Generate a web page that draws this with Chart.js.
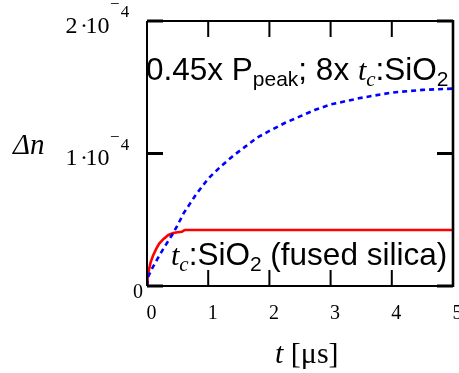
<!DOCTYPE html>
<html><head><meta charset="utf-8">
<script src="https://cdn.jsdelivr.net/npm/chart.js@4"></script>
<style>html,body{margin:0;padding:0;background:#fff}#wrap{width:459px;height:373px}</style>
</head><body><div id="wrap"><canvas id="c" width="459" height="373"></canvas></div>
<script>
// fused silica, t_c:SiO2 (red, solid)
const fusedTime = [0, 0.01, 0.03, 0.06, 0.1, 0.15, 0.2, 0.27, 0.35, 0.43, 0.5, 0.57, 0.62, 1, 2, 3, 4, 5];
const fusedDn   = [0, 0.06e-4, 0.12e-4, 0.18e-4, 0.23e-4, 0.28e-4, 0.32e-4, 0.355e-4, 0.385e-4, 0.40e-4, 0.405e-4, 0.41e-4, 0.423e-4, 0.423e-4, 0.423e-4, 0.423e-4, 0.423e-4, 0.423e-4];
// 0.45x P_peak; 8x t_c:SiO2 (blue, dashed)
const scaledTime = [0, 0.02, 0.08, 0.16, 0.24, 0.32, 0.43, 0.5, 0.6, 0.7, 0.8, 0.9, 1.0, 1.2, 1.4, 1.6, 1.8, 2.0, 2.25, 2.5, 2.75, 3.0, 3.5, 4.0, 4.5, 5.0];
const scaledDn   = [0, 0.07e-4, 0.13e-4, 0.196e-4, 0.26e-4, 0.32e-4, 0.40e-4, 0.46e-4, 0.55e-4, 0.62e-4, 0.69e-4, 0.75e-4, 0.81e-4, 0.9e-4, 0.98e-4, 1.05e-4, 1.12e-4, 1.17e-4, 1.23e-4, 1.28e-4, 1.33e-4, 1.37e-4, 1.42e-4, 1.46e-4, 1.48e-4, 1.49e-4];
const xTicks = [0, 1, 2, 3, 4, 5];
const xTickLabels = ['0', '1', '2', '3', '4', '5'];
const yTicks = [0, 1e-4, 2e-4];
const yTickMantissa = ['0', '1', '2'];
const yTickExponent = ['', '4', '4'];

const pts = (xs, ys) => xs.map((x, i) => ({x: x, y: ys[i]}));

const SANS = '"Liberation Sans", Arial, sans-serif';
const SERIF = '"Liberation Serif", "Times New Roman", serif';

function runs(ctx, x, y, parts) {
  for (const p of parts) {
    ctx.font = p.f;
    ctx.fillText(p.t, x, y + (p.dy || 0));
    x += ctx.measureText(p.t).width;
  }
}

const decor = {
  id: 'decor',
  afterDatasetsDraw(chart) {
    const ctx = chart.ctx, a = chart.chartArea, xs = chart.scales.x, ys = chart.scales.y;
    ctx.save();
    ctx.strokeStyle = '#000';
    ctx.fillStyle = '#000';
    ctx.lineWidth = 2;
    ctx.beginPath();
    ctx.moveTo(a.left, a.top); ctx.lineTo(a.right, a.top);
    ctx.moveTo(a.left, a.top); ctx.lineTo(a.left, a.bottom);
    ctx.moveTo(a.left, a.bottom); ctx.lineTo(a.right, a.bottom);
    ctx.stroke();
    ctx.lineWidth = 2.6;
    ctx.beginPath(); ctx.moveTo(a.right, a.top - 1); ctx.lineTo(a.right, a.bottom + 1); ctx.stroke();
    ctx.lineWidth = 2;
    const L = 16;
    ctx.beginPath();
    xTicks.forEach(v => {
      const px = xs.getPixelForValue(v);
      ctx.moveTo(px, a.bottom); ctx.lineTo(px, a.bottom - L);
      ctx.moveTo(px, a.top); ctx.lineTo(px, a.top + L);
    });
    ctx.stroke();
    ctx.lineWidth = 3;
    ctx.beginPath();
    yTicks.forEach(v => {
      const py = ys.getPixelForValue(v);
      ctx.moveTo(a.left, py); ctx.lineTo(a.left + L, py);
      ctx.moveTo(a.right - L, py); ctx.lineTo(a.right, py);
    });
    ctx.stroke();

    // x tick labels
    ctx.font = '20px ' + SERIF;
    ctx.textAlign = 'center';
    ctx.textBaseline = 'alphabetic';
    xTicks.forEach((v, i) => {
      ctx.fillText(xTickLabels[i], xs.getPixelForValue(v) + 4.5, a.bottom + 33);
    });
    // y tick labels
    yTicks.forEach((v, i) => {
      const py = ys.getPixelForValue(v);
      if (!yTickExponent[i]) {
        ctx.textAlign = 'right';
        ctx.font = '20px ' + SERIF;
        ctx.fillText(yTickMantissa[i], a.left - 4, py + 12);
        return;
      }
      ctx.textAlign = 'left';
      ctx.font = '24px ' + SERIF;
      ctx.fillText(yTickMantissa[i], 65.5, py + 11.5);
      ctx.fillText('10', 85.6, py + 11.5);
      ctx.textAlign = 'center';
      ctx.fillText('\u00B7', 84, py + 11.5);
      ctx.textAlign = 'left';
      ctx.font = '17px ' + SERIF;
      ctx.fillText('\u2212', 110, py - 12);
      ctx.fillText(yTickExponent[i], 120.8, py - 4);
    });

    // axis titles
    ctx.textAlign = 'left';
    runs(ctx, 275, 363, [
      {t: 't', f: 'italic 30px ' + SERIF},
      {t: ' [\u03BCs]', f: '30px ' + SERIF}
    ]);
    runs(ctx, 13, 154, [
      {t: '\u0394n', f: 'italic 29px ' + SERIF}
    ]);

    // annotations
    runs(ctx, 146, 80, [
      {t: '0.45x P', f: '31.5px ' + SANS},
      {t: 'peak', f: '21px ' + SANS, dy: 6},
      {t: '; 8x ', f: '31.5px ' + SANS},
      {t: 't', f: 'italic 30px ' + SERIF},
      {t: 'c', f: 'italic 21px ' + SERIF, dy: 6},
      {t: ':SiO', f: '31.5px ' + SANS},
      {t: '2', f: '21px ' + SANS, dy: 6}
    ]);
    runs(ctx, 171, 265, [
      {t: 't', f: 'italic 30px ' + SERIF},
      {t: 'c', f: 'italic 21px ' + SERIF, dy: 6},
      {t: ':SiO', f: '31.5px ' + SANS},
      {t: '2', f: '21px ' + SANS, dy: 6},
      {t: ' (fused silica)', f: '31.5px ' + SANS}
    ]);
    ctx.restore();
  }
};

new Chart(document.getElementById('c'), {
  type: 'line',
  data: {
    datasets: [
      {
        label: '0.45x Ppeak; 8x tc:SiO2',
        data: pts(scaledTime, scaledDn),
        borderColor: '#0000ff',
        borderWidth: 2.6,
        borderDash: [5, 4],
        pointRadius: 0,
        tension: 0,
        fill: false
      },
      {
        label: 'tc:SiO2 (fused silica)',
        data: pts(fusedTime, fusedDn),
        borderColor: '#ff0000',
        borderWidth: 2.6,
        pointRadius: 0,
        tension: 0,
        fill: false
      }
    ]
  },
  options: {
    responsive: false,
    animation: false,
    parsing: true,
    layout: {padding: {left: 147, right: 6, top: 21, bottom: 87}},
    scales: {
      x: {type: 'linear', min: 0, max: 5, display: false},
      y: {type: 'linear', min: 0, max: 2e-4, display: false}
    },
    plugins: {legend: {display: false}, tooltip: {enabled: false}}
  },
  plugins: [decor]
});
</script>
</body></html>
